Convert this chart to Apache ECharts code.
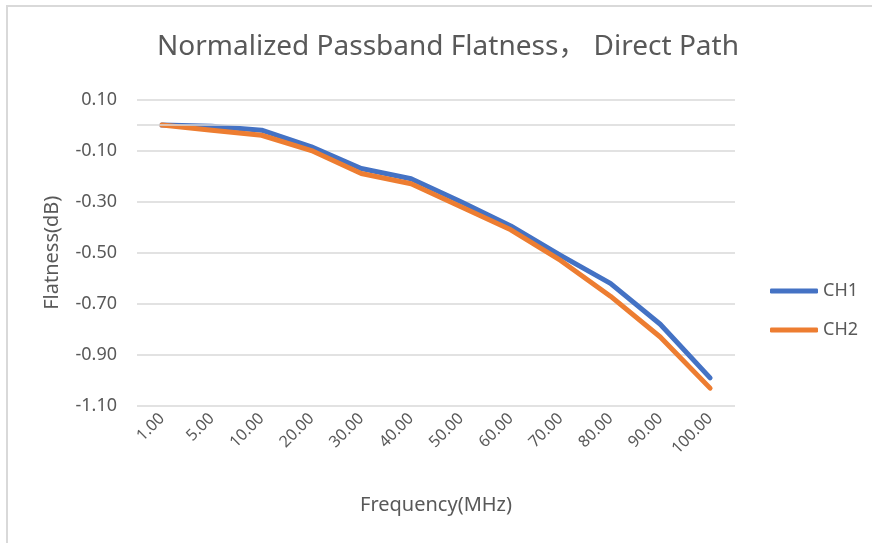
<!DOCTYPE html>
<html>
<head>
<meta charset="utf-8">
<style>
  html, body { margin: 0; padding: 0; background: #fff; }
  #chart { width: 872px; height: 543px; }
</style>
<script src="https://cdn.jsdelivr.net/npm/echarts@6/dist/echarts.min.js"></script>
</head>
<body>
<div id="chart"></div>
<script>
// Frequency points (MHz), shown as category labels
const frequencies = ['1.00', '5.00', '10.00', '20.00', '30.00', '40.00', '50.00', '60.00', '70.00', '80.00', '90.00', '100.00'];
// Normalized flatness (dB) per channel
const ch1 = [0.00, -0.005, -0.02, -0.085, -0.17, -0.21, -0.30, -0.395, -0.51, -0.62, -0.78, -0.99];
const ch2 = [0.00, -0.02, -0.04, -0.10, -0.19, -0.23, -0.32, -0.41, -0.53, -0.67, -0.83, -1.03];
// Value axis range and step
const yMin = -1.1;
const yMax = 0.1;
const yStep = 0.2;

const FONT = '"Noto Sans", "Noto Sans CJK SC", sans-serif';
const TEXT = '#595959';
const GRID = '#d9d9d9';

const chart = echarts.init(document.getElementById('chart'), null, { renderer: 'canvas' });

chart.setOption({
  backgroundColor: '#fff',
  animation: false,
  textStyle: { fontFamily: FONT },
  graphic: [{
    type: 'rect',
    shape: { x: 7, y: 6, width: 900, height: 600 },
    style: { fill: 'none', stroke: GRID, lineWidth: 2 },
    silent: true,
    z: -1
  }],
  title: {
    text: 'Normalized Passband Flatness， Direct Path',
    left: 443,
    textAlign: 'center',
    top: 28,
    textStyle: { fontFamily: FONT, fontSize: 28, fontWeight: 'normal', color: TEXT }
  },
  legend: {
    orient: 'vertical',
    left: 765,
    top: 277,
    itemWidth: 48,
    itemHeight: 5,
    itemGap: 21,
    icon: 'roundRect',
    textStyle: { fontFamily: FONT, fontSize: 18, color: TEXT },
    data: ['CH1', 'CH2']
  },
  grid: { left: 137, right: 137, top: 99.5, bottom: 137, containLabel: false },
  xAxis: {
    type: 'category',
    data: frequencies,
    boundaryGap: true,
    name: 'Frequency(MHz)',
    nameLocation: 'middle',
    nameGap: 89,
    nameTextStyle: { fontFamily: FONT, fontSize: 20, color: TEXT },
    axisLine: { show: false, onZero: false },
    axisTick: { show: false },
    axisLabel: { rotate: 45, fontFamily: FONT, fontSize: 16, color: TEXT, margin: 10, interval: 0 },
    splitLine: { show: false }
  },
  yAxis: {
    type: 'value',
    min: yMin,
    max: yMax,
    interval: yStep,
    name: 'Flatness(dB)',
    nameLocation: 'middle',
    nameRotate: 90,
    nameGap: 75,
    nameTextStyle: { fontFamily: FONT, fontSize: 20, color: TEXT },
    axisLine: { show: false },
    axisTick: { show: false },
    axisLabel: {
      fontFamily: FONT, fontSize: 18, color: TEXT, margin: 20,
      formatter: v => v.toFixed(2)
    },
    splitLine: { show: true, lineStyle: { color: GRID, width: 1.5 } }
  },
  series: [
    {
      // horizontal category axis line at zero
      name: 'axis',
      type: 'line',
      data: [],
      silent: true,
      z: 1,
      markLine: {
        silent: true,
        symbol: 'none',
        label: { show: false },
        lineStyle: { color: GRID, width: 1.5, type: 'solid' },
        data: [{ yAxis: 0 }]
      }
    },
    {
      name: 'CH1',
      type: 'line',
      data: ch1,
      showSymbol: false,
      symbol: 'none',
      z: 3,
      color: '#4472C4',
      lineStyle: { width: 5, color: '#4472C4', cap: 'round', join: 'round' }
    },
    {
      name: 'CH2',
      type: 'line',
      data: ch2,
      showSymbol: false,
      symbol: 'none',
      z: 3,
      color: '#ED7D31',
      lineStyle: { width: 5, color: '#ED7D31', cap: 'round', join: 'round' }
    }
  ]
});
</script>
</body>
</html>
